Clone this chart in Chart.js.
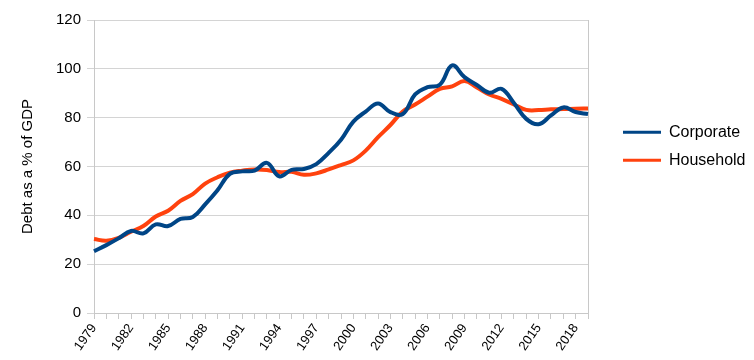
<!DOCTYPE html>
<html lang="en">
    <head>
        <meta name="viewport" content="width=device-width, initial-scale=1.0">
        <title>Debt as a % of GDP</title>
        <style>
            body { margin: 0; background: #fff; }
            #Page { width: 754px; height: 360px; }
        </style>
    </head>
    <body>
    <div id="Page">
        <canvas id="myChart" width="754" height="360"></canvas>
    </div>

<script src="https://cdn.jsdelivr.net/npm/chart.js@4/dist/chart.umd.min.js"></script>
<script type="text/javascript">
    // years on the x axis, one point per year
    var years = [1979, 1980, 1981, 1982, 1983, 1984, 1985, 1986, 1987, 1988,
                 1989, 1990, 1991, 1992, 1993, 1994, 1995, 1996, 1997, 1998,
                 1999, 2000, 2001, 2002, 2003, 2004, 2005, 2006, 2007, 2008,
                 2009, 2010, 2011, 2012, 2013, 2014, 2015, 2016, 2017, 2018, 2019];
    var corporate = [25.3, 27.8, 30.6, 33.6, 32.6, 36.3, 35.6, 38.5, 39.3, 44.5,
                     50.3, 57.0, 58.0, 58.3, 61.5, 56.0, 58.6, 59.0, 61.0, 65.6,
                     71.0, 78.4, 82.5, 85.8, 82.3, 81.5, 89.5, 92.5, 93.5, 101.4,
                     96.6, 93.4, 90.2, 91.8, 86.0, 79.5, 77.3, 80.9, 84.2, 82.3, 81.5];
    var household = [30.3, 29.6, 30.8, 33.3, 35.6, 39.5, 41.9, 45.9, 48.7, 53.0,
                     55.6, 57.5, 58.3, 58.8, 58.6, 57.7, 57.8, 56.6, 57.2, 58.8,
                     60.6, 62.5, 66.5, 72.0, 77.0, 82.5, 85.4, 88.6, 91.8, 92.8,
                     95.0, 92.4, 89.5, 87.7, 85.4, 83.2, 83.1, 83.4, 83.5, 83.7, 83.8];
    var yTicks = [0, 20, 40, 60, 80, 100, 120];
    var labelEvery = 3; // only every third year gets a label

    Chart.defaults.font.family = "'Liberation Sans', Arial, sans-serif";
    Chart.defaults.color = '#000';

    // right edge of the plot frame, and a gap between plot and legend
    var frameEdge = {
        id: 'frameEdge',
        beforeDraw: function(chart) {
            if (chart.legend) {
                chart.legend.left += 23;
                chart.legend.right += 23;
            }
        },
        beforeDatasetsDraw: function(chart) {
            var a = chart.chartArea, c = chart.ctx;
            c.save();
            c.strokeStyle = '#c8c8c8';
            c.lineWidth = 1;
            c.beginPath();
            c.moveTo(Math.round(a.right) + 0.5, a.top);
            c.lineTo(Math.round(a.right) + 0.5, a.bottom);
            c.stroke();
            c.restore();
        }
    };

    var ctx = document.getElementById("myChart");
    var myChart = new Chart(ctx, {
        type: 'line',
        data: {
            labels: years,
            datasets: [
                { label: 'Corporate', data: corporate, borderColor: '#004586', backgroundColor: '#004586',
                  borderWidth: 4, pointRadius: 0, tension: 0.4 },
                { label: 'Household', data: household, borderColor: '#ff420e', backgroundColor: '#ff420e',
                  borderWidth: 4, pointRadius: 0, tension: 0.4 }
            ]
        },
        plugins: [frameEdge],
        options: {
            responsive: false,
            animation: false,
            layout: { padding: 0 },
            plugins: {
                tooltip: { enabled: false },
                legend: {
                    position: 'right',
                    align: 'start',
                    title: { display: true, text: '', font: { size: 16 }, padding: { top: 93, bottom: 0 } },
                    labels: {
                        usePointStyle: true, pointStyle: 'line', pointStyleWidth: 38,
                        padding: 12, color: '#000', font: { size: 16 },
                        generateLabels: function(chart) {
                            var items = Chart.defaults.plugins.legend.labels.generateLabels(chart);
                            items.forEach(function(it) { it.lineWidth = 3; });
                            return items;
                        }
                    }
                }
            },
            scales: {
                x: {
                    grid: { drawOnChartArea: false, drawTicks: true, tickLength: 6, color: '#c8c8c8' },
                    border: { color: '#c8c8c8' },
                    ticks: {
                        autoSkip: false, minRotation: 55, maxRotation: 55, padding: 2,
                        font: { size: 13 },
                        callback: function(v, i) { return i % labelEvery === 0 ? String(years[i]) : ''; }
                    },
                    afterFit: function(s) { s.height = 47; s.paddingRight = 166; s.paddingLeft = 0; }
                },
                y: {
                    min: yTicks[0], max: yTicks[yTicks.length - 1],
                    afterBuildTicks: function(s) { s.ticks = yTicks.map(function(v) { return { value: v }; }); },
                    grid: { color: '#d4d4d4', tickLength: 7 },
                    border: { color: '#c8c8c8' },
                    ticks: { padding: 6, font: { size: 15 } },
                    title: { display: true, text: 'Debt as a % of GDP', font: { size: 15 }, padding: { top: 19, bottom: 0 } },
                    afterFit: function(s) { s.width = 94; s.paddingTop = 20; s.paddingBottom = 0; }
                }
            }
        }
    });
</script>
    </body>
</html>
